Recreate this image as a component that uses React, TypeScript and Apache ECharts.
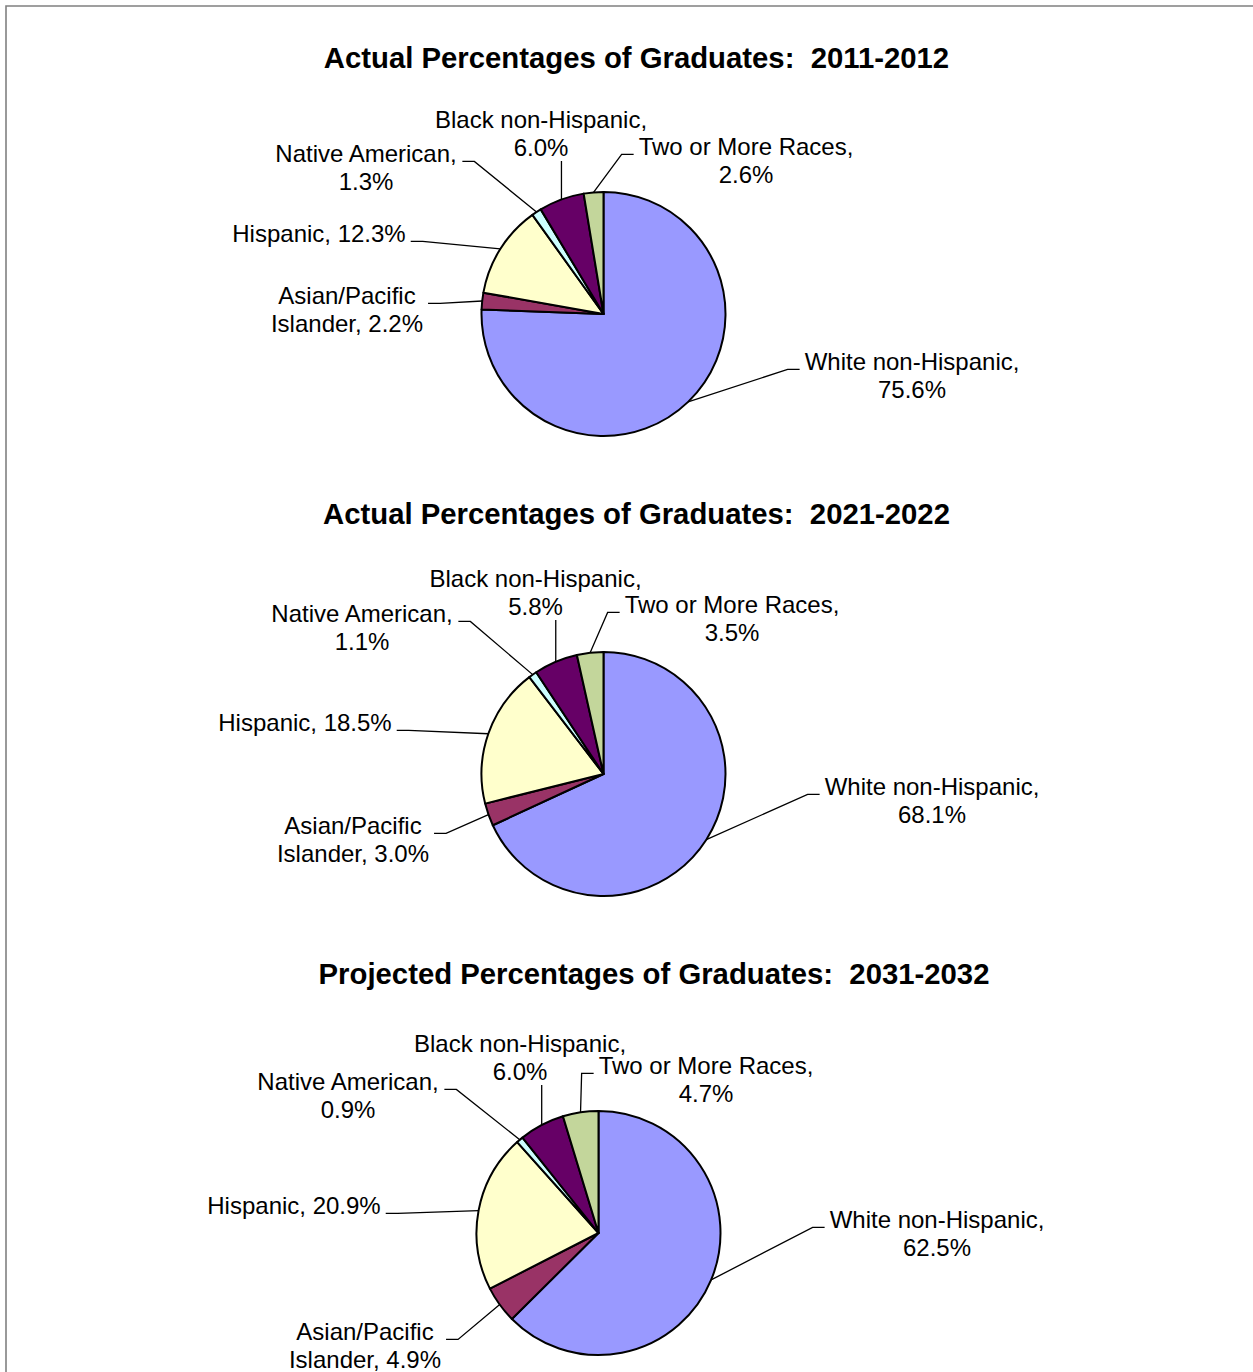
import React, { useEffect, useRef } from "react";
import * as echarts from "echarts";

// ---- Data ----
const categories = [
  "White non-Hispanic",
  "Asian/Pacific Islander",
  "Hispanic",
  "Native American",
  "Black non-Hispanic",
  "Two or More Races",
];
const values2011 = [75.6, 2.2, 12.3, 1.3, 6.0, 2.6];
const values2021 = [68.1, 3.0, 18.5, 1.1, 5.8, 3.5];
const values2031 = [62.5, 4.9, 20.9, 0.9, 6.0, 4.7];
const titles = [
  "Actual Percentages of Graduates:  2011-2012",
  "Actual Percentages of Graduates:  2021-2022",
  "Projected Percentages of Graduates:  2031-2032",
];
const labelTemplates = [
  "White non-Hispanic,\n{v}%",
  "Asian/Pacific\nIslander, {v}%",
  "Hispanic, {v}%",
  "Native American,\n{v}%",
  "Black non-Hispanic,\n{v}%",
  "Two or More Races,\n{v}%",
];

// ---- Styles / layout ----
const colors = ["#9999FF", "#993366", "#FFFFCC", "#CCFFFF", "#660066", "#C3D69B"];
const FONT = "Liberation Sans";
const LABEL_SIZE = 24;
const LINE_H = 28;
const RADIUS = 122;
const pieCenters = [
  [603.5, 314],
  [603.5, 774],
  [598.5, 1233],
];
const titlePos = [
  [636.5, 57],
  [636.5, 513],
  [654, 973],
];
const labelPos = [
  [[912, 375], [347, 309], [319, 233], [366, 167], [541, 133], [746, 160]],
  [[932, 800], [353, 839], [305, 722], [362, 627], [535.5, 592], [732, 618]],
  [[937, 1233], [365, 1345], [294, 1205], [348, 1095], [520, 1057], [706, 1079]],
];
const labelSide = ["left", "right", "right", "right", "bottom", "left"];
const GAP = 5;
const TICK = 12;

export default function App() {
  const ref = useRef<HTMLDivElement>(null);

  useEffect(() => {
    document.body.style.margin = "0";
    if (!ref.current) return;
    const chart = echarts.init(ref.current, null, { renderer: "svg" });
    const allValues = [values2011, values2021, values2031];

    const series = allValues.map((vals, si) => ({
      type: "pie",
      center: pieCenters[si],
      radius: RADIUS,
      startAngle: 90,
      clockwise: true,
      avoidLabelOverlap: false,
      silent: true,
      emphasis: { disabled: true },
      itemStyle: { borderColor: "#000", borderWidth: 2 },
      label: {
        show: true,
        position: "outside",
        color: "#000",
        fontFamily: FONT,
        fontSize: LABEL_SIZE,
        lineHeight: LINE_H,
        align: "center",
        formatter: (p: any) =>
          labelTemplates[p.dataIndex].replace("{v}", Number(p.value).toFixed(1)),
      },
      labelLine: {
        show: true,
        length: 15,
        length2: 10,
        lineStyle: { color: "#000", width: 1.3 },
      },
      labelLayout: (params: any) => {
        const idx = params.dataIndex;
        const [lx, ly] = labelPos[si][idx];
        const w = params.labelRect.width;
        const h = params.labelRect.height;
        let arc: number[];
        if (params.labelLinePoints && params.labelLinePoints[0]) {
          arc = params.labelLinePoints[0];
        } else {
          const total = vals.reduce((a, b) => a + b, 0);
          let cum = 0;
          for (let k = 0; k < idx; k++) cum += vals[k];
          const mid = ((cum + vals[idx] / 2) / total) * Math.PI * 2;
          arc = [
            pieCenters[si][0] + RADIUS * Math.sin(mid),
            pieCenters[si][1] - RADIUS * Math.cos(mid),
          ];
        }
        const top = ly - h / 2;
        const yA = top + LINE_H / 2 + 0.35 * LABEL_SIZE;
        const side = labelSide[idx];
        let pts: number[][];
        if (side === "right") {
          const ex = lx + w / 2 + GAP;
          pts = [arc, [ex + TICK, yA], [ex, yA]];
        } else if (side === "left") {
          const ex = lx - w / 2 - GAP;
          pts = [arc, [ex - TICK, yA], [ex, yA]];
        } else {
          const ey = ly + h / 2;
          pts = [arc, [arc[0], ey], [arc[0], ey]];
        }
        return {
          x: lx,
          y: ly,
          align: "center",
          verticalAlign: "middle",
          labelLinePoints: pts,
        };
      },
      data: categories.map((name, i) => ({
        name,
        value: vals[i],
        itemStyle: { color: colors[i] },
      })),
    }));

    const graphics: any[] = [
      {
        type: "rect",
        shape: { x: 6, y: 6, width: 1320, height: 1420 },
        style: { fill: "none", stroke: "#808080", lineWidth: 1.6 },
        silent: true,
      },
      ...titles.map((t, i) => ({
        type: "text",
        x: titlePos[i][0],
        y: titlePos[i][1],
        silent: true,
        style: {
          text: t,
          fill: "#000",
          font: `bold 29.3px "${FONT}"`,
          align: "center",
          verticalAlign: "middle",
          textAlign: "center",
          textVerticalAlign: "middle",
        },
      })),
    ];

    chart.setOption({
      animation: false,
      backgroundColor: "#fff",
      graphic: graphics,
      series,
    } as any);

    return () => chart.dispose();
  }, []);

  return <div ref={ref} style={{ width: 1253, height: 1372 }} />;
}
